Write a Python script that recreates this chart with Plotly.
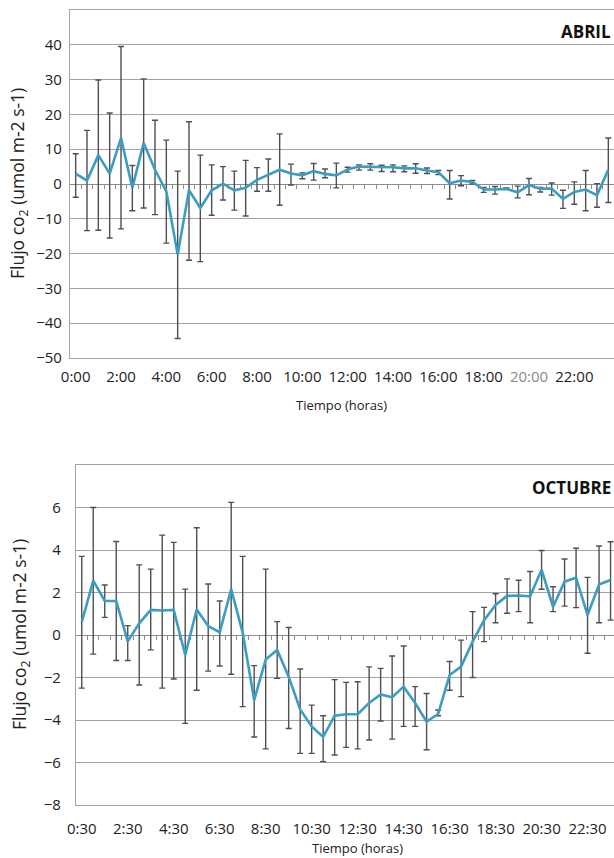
import plotly.graph_objects as go

# ---------------- ABRIL (top) ----------------
abril_labels = ["0:00", "2:00", "4:00", "6:00", "8:00", "10:00", "12:00",
                "14:00", "16:00", "18:00", "20:00", "22:00"]
abril_mean = [3.0, 1.0, 8.3, 3.0, 13.2, -1.1, 11.8, 4.1, -2.1, -20.3, -1.8, -6.9,
              -1.8, 0.1, -1.8, -1.1, 1.2, 2.7, 4.1, 3.0, 2.5, 3.7, 2.9, 2.5,
              4.2, 5.0, 5.0, 4.8, 4.8, 4.5, 4.5, 3.9, 3.4, 0.2, 1.0, 0.6,
              -1.6, -1.6, -1.4, -2.4, -0.3, -1.4, -1.3, -4.3, -2.3, -1.6, -3.2, 4.1]
abril_upper = [8.7, 15.4, 29.9, 20.4, 39.5, 5.3, 30.2, 18.3, 12.6, 3.7, 17.9, 8.3,
               5.5, 5.0, 3.7, 6.8, 4.7, 7.2, 14.4, 5.7, 3.2, 5.9, 4.3, 6.0,
               4.8, 5.5, 5.8, 5.4, 5.5, 5.2, 5.8, 4.6, 3.9, 3.9, 2.4, 1.0,
               -1.0, -0.7, -1.1, -0.6, 1.6, -1.0, 0.3, -1.8, 0.6, 3.9, 0.1, 13.2]
abril_lower = [-3.8, -13.4, -13.3, -15.5, -12.9, -7.7, -6.9, -8.8, -17.0, -44.4, -21.9, -22.3,
               -9.0, -4.6, -7.5, -9.2, -2.1, -2.1, -6.1, -0.3, 1.5, 1.1, 1.8, -1.1,
               3.4, 4.0, 4.0, 3.6, 3.5, 3.5, 3.1, 3.0, 2.7, -4.3, -0.5, 0.0,
               -2.4, -2.9, -1.6, -4.0, -3.1, -2.3, -3.2, -7.0, -5.8, -7.7, -6.7, -5.3]

# ---------------- OCTUBRE (bottom) ----------------
oct_labels = ["0:30", "2:30", "4:30", "6:30", "8:30", "10:30", "12:30",
              "14:30", "16:30", "18:30", "20:30", "22:30"]
oct_mean = [0.6, 2.56, 1.6, 1.6, -0.3, 0.55, 1.18, 1.15, 1.18, -0.94, 1.2, 0.42,
            0.13, 2.16, 0.1, -3.06, -1.15, -0.7, -1.96, -3.5, -4.3, -4.8, -3.8, -3.73,
            -3.73, -3.2, -2.8, -2.93, -2.43, -3.2, -4.08, -3.72, -1.88, -1.49, -0.31, 0.7,
            1.41, 1.84, 1.86, 1.82, 3.07, 1.33, 2.51, 2.7, 0.94, 2.38, 2.59]
oct_upper = [3.7, 6.0, 2.35, 4.4, 0.44, 3.3, 3.1, 4.7, 4.36, 2.16, 5.05, 2.4,
             1.6, 6.24, 3.7, -1.44, 3.1, 0.63, 0.35, -1.6, -3.3, -3.8, -2.1, -2.23,
             -2.2, -1.5, -1.57, -0.99, -0.52, -2.43, -2.75, -3.53, -1.25, -0.24, 1.1, 1.3,
             1.94, 2.64, 2.58, 2.99, 3.98, 2.27, 3.58, 4.08, 2.71, 4.19, 4.39]
oct_lower = [-2.5, -0.9, 0.83, -1.2, -1.2, -2.35, -0.7, -2.5, -2.07, -4.16, -2.6, -1.7,
             -1.46, -1.85, -3.37, -4.8, -5.36, -2.04, -4.4, -5.57, -5.57, -5.96, -5.65, -5.29,
             -5.36, -4.94, -4.05, -4.9, -4.3, -4.3, -5.4, -3.8, -2.6, -2.9, -2.0, -0.31,
             0.58, 1.02, 1.1, 0.58, 2.15, 1.1, 1.36, 1.29, -0.86, 0.58, 0.7]

abril_y_ticks = [-50, -40, -30, -20, -10, 0, 10, 20, 30, 40]
oct_y_ticks = [-8, -6, -4, -2, 0, 2, 4, 6]

LINE_COLOR = "#3a9dc1"
ERR_COLOR = "#505050"
GRID_COLOR = "#a3a3a3"
FONT = "Open Sans"
W, H = 614, 858


def px_x(v):
    return v / W


def px_y(v):
    return 1 - v / H


fig = go.Figure()


def add_panel(means, upper, lower, xa, ya):
    n = len(means)
    xs = list(range(n))
    fig.add_trace(go.Scatter(
        x=xs, y=means, mode="lines",
        line=dict(color=LINE_COLOR, width=2.6),
        error_y=dict(type="data", symmetric=False,
                     array=[u - m for u, m in zip(upper, means)],
                     arrayminus=[m - l for m, l in zip(means, lower)],
                     color=ERR_COLOR, thickness=1.4, width=3),
        xaxis=xa, yaxis=ya, showlegend=False, hoverinfo="skip"))


add_panel(abril_mean, abril_upper, abril_lower, "x", "y")
add_panel(oct_mean, oct_upper, oct_lower, "x2", "y2")
# empty traces so the zero-crossing tick axes exist
fig.add_trace(go.Scatter(x=[], y=[], xaxis="x3", yaxis="y", showlegend=False))
fig.add_trace(go.Scatter(x=[], y=[], xaxis="x4", yaxis="y2", showlegend=False))

n_a = len(abril_mean)
n_o = len(oct_mean)
a_range = [-0.5, n_a - 0.5]
o_range = [-0.5, n_o - 0.7]

top_dom_y = [px_y(358), px_y(10)]
bot_dom_y = [px_y(805), px_y(465)]

tick_font = dict(family=FONT, size=15, color="#222222")

abril_ticktext = [
    ('<span style="color:#8a8a8a">%s</span>' % t) if t == "20:00" else t
    for t in abril_labels
]

fig.update_layout(
    template="none",
    width=W, height=H,
    margin=dict(l=0, r=0, t=0, b=0, pad=0),
    paper_bgcolor="white", plot_bgcolor="white",
    font=dict(family=FONT, color="#222222"),
    xaxis=dict(domain=[px_x(70), 1], range=a_range, anchor="y", automargin=False,
               tickmode="array", tickvals=list(range(0, n_a, 4)), ticktext=abril_ticktext,
               ticks="outside", ticklen=5, tickcolor="rgba(0,0,0,0)",
               showgrid=False, zeroline=False, showline=True, mirror=True,
               linecolor=GRID_COLOR, linewidth=1.2, tickfont=tick_font),
    yaxis=dict(domain=top_dom_y, range=[-50, 50], anchor="x", automargin=False,
               tickmode="array", tickvals=abril_y_ticks,
               ticks="outside", ticklen=4, tickcolor="rgba(0,0,0,0)",
               showgrid=True, gridcolor=GRID_COLOR, gridwidth=1.2,
               zeroline=False, showline=True, linecolor=GRID_COLOR, linewidth=1.2,
               tickfont=tick_font),
    xaxis3=dict(overlaying="x", anchor="free", automargin=False,
                position=(top_dom_y[0] + top_dom_y[1]) / 2,
                range=a_range, tickmode="array",
                tickvals=[i + 0.5 for i in range(n_a)],
                ticks="outside", ticklen=4, tickwidth=1, tickcolor="#8c8c8c",
                showticklabels=False, showgrid=False, zeroline=False,
                showline=True, linecolor="#8c8c8c", linewidth=1.2, layer="below traces"),
    xaxis2=dict(domain=[px_x(76), 1], range=o_range, anchor="y2", automargin=False,
                tickmode="array", tickvals=list(range(0, n_o, 4)), ticktext=oct_labels,
                ticks="outside", ticklen=10, tickcolor="rgba(0,0,0,0)",
                showgrid=False, zeroline=False, showline=True, mirror=True,
                linecolor=GRID_COLOR, linewidth=1.2, tickfont=tick_font),
    yaxis2=dict(domain=bot_dom_y, range=[-8, 8], anchor="x2", automargin=False,
                tickmode="array", tickvals=oct_y_ticks,
                ticks="outside", ticklen=11, tickcolor="rgba(0,0,0,0)",
                showgrid=True, gridcolor=GRID_COLOR, gridwidth=1.2,
                zeroline=False, showline=True, linecolor=GRID_COLOR, linewidth=1.2,
                tickfont=tick_font),
    xaxis4=dict(overlaying="x2", anchor="free", automargin=False,
                position=(bot_dom_y[0] + bot_dom_y[1]) / 2,
                range=o_range, tickmode="array",
                tickvals=[i + 0.5 for i in range(n_o)],
                ticks="outside", ticklen=4, tickwidth=1, tickcolor="#8c8c8c",
                showticklabels=False, showgrid=False, zeroline=False,
                showline=True, linecolor="#8c8c8c", linewidth=1.2, layer="below traces"),
)

ytitle = "Flujo co<sub>2</sub> (umol m-2 s-1)"
ann = [
    dict(text=ytitle, x=px_x(18), y=px_y(184), textangle=-90,
         font=dict(family=FONT, size=17.5, color="#222222")),
    dict(text=ytitle, x=px_x(20), y=px_y(635), textangle=-90,
         font=dict(family=FONT, size=17.5, color="#222222")),
    dict(text="Tiempo (horas)", x=px_x(341), y=px_y(405),
         font=dict(family=FONT, size=13, color="#222222")),
    dict(text="Tiempo (horas)", x=px_x(357), y=px_y(848),
         font=dict(family=FONT, size=13, color="#222222")),
    dict(text="<b>ABRIL</b>", x=px_x(613), y=px_y(32), xanchor="right",
         font=dict(family=FONT, size=17, color="#111111")),
    dict(text="<b>OCTUBRE</b>", x=px_x(613), y=px_y(488), xanchor="right",
         font=dict(family=FONT, size=17, color="#111111")),
]
for a in ann:
    a.update(xref="paper", yref="paper", showarrow=False)
    a.setdefault("xanchor", "center")
    a.setdefault("yanchor", "middle")
fig.update_layout(annotations=ann)

fig.write_html(
    "out.html",
    config={"displayModeBar": False},
    post_script="document.body.style.margin='0';document.body.style.padding='0';"
                "document.body.style.overflow='hidden';"
                "document.documentElement.style.overflow='hidden';",
)
